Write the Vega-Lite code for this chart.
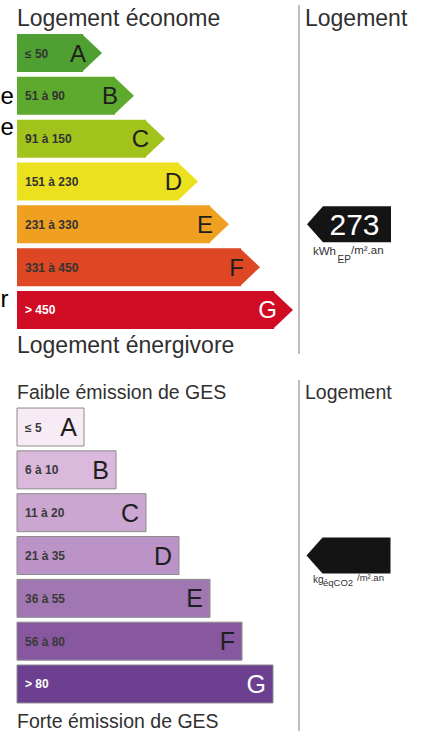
{
  "$schema": "https://vega.github.io/schema/vega-lite/v6.json",
  "width": 428,
  "height": 731,
  "autosize": {"type": "none"},
  "padding": 0,
  "background": "white",
  "config": {"view": {"stroke": null}, "font": "Liberation Sans"},
  "datasets": {
    "energy": [
      {"cls": "A", "range": "≤ 50", "len": 83},
      {"cls": "B", "range": "51 à 90", "len": 115},
      {"cls": "C", "range": "91 à 150", "len": 146},
      {"cls": "D", "range": "151 à 230", "len": 179},
      {"cls": "E", "range": "231 à 330", "len": 210},
      {"cls": "F", "range": "331 à 450", "len": 241},
      {"cls": "G", "range": "> 450", "len": 274}
    ],
    "ges": [
      {"cls": "A", "range": "≤ 5", "len": 84},
      {"cls": "B", "range": "6 à 10", "len": 116},
      {"cls": "C", "range": "11 à 20", "len": 146},
      {"cls": "D", "range": "21 à 35", "len": 179},
      {"cls": "E", "range": "36 à 55", "len": 210},
      {"cls": "F", "range": "56 à 80", "len": 242},
      {"cls": "G", "range": "> 80", "len": 273}
    ]
  },
  "resolve": {"scale": {"y": "independent", "fill": "independent"}},
  "layer": [
    {
      "encoding": {
        "y": {"field": "cls", "type": "nominal", "axis": null,
          "scale": {"type": "band", "domain": ["A","B","C","D","E","F","G"], "range": [31.6, 331.4], "paddingInner": 0.113, "paddingOuter": 0.0565}}
      },
      "layer": [
        {
          "data": {"name": "energy"},
          "mark": {"type": "bar"},
          "encoding": {
            "x": {"field": "len", "type": "quantitative", "axis": null, "scale": {"domain": [0, 428], "nice": false, "zero": false}},
            "x2": {"datum": 17},
            "fill": {"field": "cls", "type": "nominal", "legend": null,
              "scale": {"domain": ["A","B","C","D","E","F","G"], "range": ["#4f9f32", "#5eaa2e", "#a2c31b", "#ebe11e", "#f0a021", "#dd4723", "#d00c25"]}}
          }
        },
        {
          "data": {"name": "energy"},
          "mark": {"type": "point", "shape": "M-0.06,-1L1,0L-0.06,1Z", "size": 1444, "filled": true, "opacity": 1, "strokeWidth": 0},
          "encoding": {
            "x": {"field": "len", "type": "quantitative", "axis": null, "scale": {"domain": [0, 428], "nice": false, "zero": false}},
            "fill": {"field": "cls", "type": "nominal", "legend": null,
              "scale": {"domain": ["A","B","C","D","E","F","G"], "range": ["#4f9f32", "#5eaa2e", "#a2c31b", "#ebe11e", "#f0a021", "#dd4723", "#d00c25"]}}
          }
        },
        {
          "data": {"name": "energy"},
          "mark": {"type": "text", "align": "left", "baseline": "alphabetic", "dy": 4.5, "fontSize": 12, "fontWeight": "bold"},
          "encoding": {
            "x": {"datum": 25, "type": "quantitative", "axis": null, "scale": {"domain": [0, 428], "nice": false, "zero": false}},
            "text": {"field": "range"},
            "color": {"condition": {"test": "datum.cls === 'G'", "value": "#ffffff"}, "value": "#333333"}
          }
        },
        {
          "data": {"name": "energy"},
          "mark": {"type": "text", "align": "right", "baseline": "alphabetic", "dx": 3, "dy": 8.5, "fontSize": 24},
          "encoding": {
            "x": {"field": "len", "type": "quantitative", "axis": null, "scale": {"domain": [0, 428], "nice": false, "zero": false}},
            "text": {"field": "cls"},
            "color": {"condition": {"test": "datum.cls === 'G'", "value": "#ffffff"}, "value": "#1e1e1e"}
          }
        },
        {
          "data": {"values": [{"cls": "A", "t": "Logement économe"}]},
          "mark": {"type": "text", "align": "left", "baseline": "alphabetic", "dy": -27, "fontSize": 23, "color": "#303030"},
          "encoding": {
            "x": {"datum": 17, "type": "quantitative", "axis": null, "scale": {"domain": [0, 428], "nice": false, "zero": false}},
            "text": {"field": "t"}
          }
        },
        {
          "data": {"values": [{"cls": "A", "t": "Logement"}]},
          "mark": {"type": "text", "align": "left", "baseline": "alphabetic", "dy": -27, "fontSize": 23, "color": "#303030"},
          "encoding": {
            "x": {"datum": 305, "type": "quantitative", "axis": null, "scale": {"domain": [0, 428], "nice": false, "zero": false}},
            "text": {"field": "t"}
          }
        },
        {
          "data": {"values": [{"cls": "G", "t": "Logement énergivore"}]},
          "mark": {"type": "text", "align": "left", "baseline": "alphabetic", "dy": 43, "fontSize": 23, "color": "#303030"},
          "encoding": {
            "x": {"datum": 17, "type": "quantitative", "axis": null, "scale": {"domain": [0, 428], "nice": false, "zero": false}},
            "text": {"field": "t"}
          }
        },
        {
          "data": {"values": [{"cls": "A", "cls2": "G"}]},
          "mark": {"type": "rule", "color": "#a8a8a8", "strokeWidth": 1.5, "yOffset": -48, "y2Offset": 44},
          "encoding": {
            "x": {"datum": 299, "type": "quantitative", "axis": null, "scale": {"domain": [0, 428], "nice": false, "zero": false}},
            "y2": {"field": "cls2"}
          }
        },
        {
          "data": {"values": [{"cls": "E", "v": "273"}]},
          "mark": {"type": "point", "shape": "M-1,0L-0.619,-0.4286L1,-0.4286L1,0.4286L-0.619,0.4286Z", "size": 7056, "filled": true, "opacity": 1, "strokeWidth": 0, "fill": "#141414"},
          "encoding": {
            "x": {"datum": 349, "type": "quantitative", "axis": null, "scale": {"domain": [0, 428], "nice": false, "zero": false}}
          }
        },
        {
          "data": {"values": [{"cls": "E", "v": "273"}]},
          "mark": {"type": "text", "align": "center", "baseline": "alphabetic", "dy": 10.7, "fontSize": 30, "color": "#ffffff"},
          "encoding": {
            "x": {"datum": 354.5, "type": "quantitative", "axis": null, "scale": {"domain": [0, 428], "nice": false, "zero": false}},
            "text": {"field": "v"}
          }
        },
        {
          "data": {"values": [{"cls": "E", "t": "kWh"}]},
          "mark": {"type": "text", "align": "left", "baseline": "alphabetic", "dy": 30.7, "fontSize": 11.5, "color": "#303030"},
          "encoding": {
            "x": {"datum": 313, "type": "quantitative", "axis": null, "scale": {"domain": [0, 428], "nice": false, "zero": false}},
            "text": {"field": "t"}
          }
        },
        {
          "data": {"values": [{"cls": "E", "t": "EP"}]},
          "mark": {"type": "text", "align": "left", "baseline": "alphabetic", "dy": 38.7, "fontSize": 10, "color": "#303030"},
          "encoding": {
            "x": {"datum": 337.5, "type": "quantitative", "axis": null, "scale": {"domain": [0, 428], "nice": false, "zero": false}},
            "text": {"field": "t"}
          }
        },
        {
          "data": {"values": [{"cls": "E", "t": "/m².an"}]},
          "mark": {"type": "text", "align": "left", "baseline": "alphabetic", "dy": 29.7, "fontSize": 11.5, "color": "#303030"},
          "encoding": {
            "x": {"datum": 351, "type": "quantitative", "axis": null, "scale": {"domain": [0, 428], "nice": false, "zero": false}},
            "text": {"field": "t"}
          }
        },
        {
          "data": {"values": [{"cls": "B", "t": "e"}]},
          "mark": {"type": "text", "align": "left", "baseline": "alphabetic", "dy": 8, "fontSize": 24, "color": "#000000"},
          "encoding": {
            "x": {"datum": 0.5, "type": "quantitative", "axis": null, "scale": {"domain": [0, 428], "nice": false, "zero": false}},
            "text": {"field": "t"}
          }
        },
        {
          "data": {"values": [{"cls": "C", "t": "e"}]},
          "mark": {"type": "text", "align": "left", "baseline": "alphabetic", "dy": -4, "fontSize": 24, "color": "#000000"},
          "encoding": {
            "x": {"datum": 0.5, "type": "quantitative", "axis": null, "scale": {"domain": [0, 428], "nice": false, "zero": false}},
            "text": {"field": "t"}
          }
        },
        {
          "data": {"values": [{"cls": "G", "t": "r"}]},
          "mark": {"type": "text", "align": "left", "baseline": "alphabetic", "dy": -3, "fontSize": 24, "color": "#000000"},
          "encoding": {
            "x": {"datum": 0.5, "type": "quantitative", "axis": null, "scale": {"domain": [0, 428], "nice": false, "zero": false}},
            "text": {"field": "t"}
          }
        }
      ]
    },
    {
      "encoding": {
        "y": {"field": "cls", "type": "nominal", "axis": null,
          "scale": {"type": "band", "domain": ["A","B","C","D","E","F","G"], "range": [405.6, 705.4], "paddingInner": 0.113, "paddingOuter": 0.0565}}
      },
      "layer": [
        {
          "data": {"name": "ges"},
          "mark": {"type": "bar", "stroke": "#8c8c8c", "strokeWidth": 1},
          "encoding": {
            "x": {"field": "len", "type": "quantitative", "axis": null, "scale": {"domain": [0, 428], "nice": false, "zero": false}},
            "x2": {"datum": 17},
            "fill": {"field": "cls", "type": "nominal", "legend": null,
              "scale": {"domain": ["A","B","C","D","E","F","G"], "range": ["#f7ebf5", "#dab9dc", "#caa6d1", "#bb93c6", "#a077b1", "#87579f", "#6c3f90"]}}
          }
        },
        {
          "data": {"name": "ges"},
          "mark": {"type": "text", "align": "left", "baseline": "alphabetic", "dy": 4.5, "fontSize": 12, "fontWeight": "bold"},
          "encoding": {
            "x": {"datum": 25, "type": "quantitative", "axis": null, "scale": {"domain": [0, 428], "nice": false, "zero": false}},
            "text": {"field": "range"},
            "color": {"condition": {"test": "datum.cls === 'G'", "value": "#ffffff"}, "value": "#3a3a3a"}
          }
        },
        {
          "data": {"name": "ges"},
          "mark": {"type": "text", "align": "right", "baseline": "alphabetic", "dx": -7, "dy": 9, "fontSize": 25},
          "encoding": {
            "x": {"field": "len", "type": "quantitative", "axis": null, "scale": {"domain": [0, 428], "nice": false, "zero": false}},
            "text": {"field": "cls"},
            "color": {"condition": {"test": "datum.cls === 'G'", "value": "#ffffff"}, "value": "#1e1e1e"}
          }
        },
        {
          "data": {"values": [{"cls": "A", "t": "Faible émission de GES"}]},
          "mark": {"type": "text", "align": "left", "baseline": "alphabetic", "dy": -28, "fontSize": 19.5, "color": "#303030"},
          "encoding": {
            "x": {"datum": 17, "type": "quantitative", "axis": null, "scale": {"domain": [0, 428], "nice": false, "zero": false}},
            "text": {"field": "t"}
          }
        },
        {
          "data": {"values": [{"cls": "A", "t": "Logement"}]},
          "mark": {"type": "text", "align": "left", "baseline": "alphabetic", "dy": -28, "fontSize": 19.5, "color": "#303030"},
          "encoding": {
            "x": {"datum": 305, "type": "quantitative", "axis": null, "scale": {"domain": [0, 428], "nice": false, "zero": false}},
            "text": {"field": "t"}
          }
        },
        {
          "data": {"values": [{"cls": "G", "t": "Forte émission de GES"}]},
          "mark": {"type": "text", "align": "left", "baseline": "alphabetic", "dy": 44, "fontSize": 19.5, "color": "#303030"},
          "encoding": {
            "x": {"datum": 17, "type": "quantitative", "axis": null, "scale": {"domain": [0, 428], "nice": false, "zero": false}},
            "text": {"field": "t"}
          }
        },
        {
          "data": {"values": [{"cls": "A", "cls2": "G"}]},
          "mark": {"type": "rule", "color": "#a8a8a8", "strokeWidth": 1.5, "yOffset": -47, "y2Offset": 48},
          "encoding": {
            "x": {"datum": 299, "type": "quantitative", "axis": null, "scale": {"domain": [0, 428], "nice": false, "zero": false}},
            "y2": {"field": "cls2"}
          }
        },
        {
          "data": {"values": [{"cls": "D"}]},
          "mark": {"type": "point", "shape": "M-1,0L-0.619,-0.4286L1,-0.4286L1,0.4286L-0.619,0.4286Z", "size": 7056, "filled": true, "opacity": 1, "strokeWidth": 0, "fill": "#141414"},
          "encoding": {
            "x": {"datum": 348.5, "type": "quantitative", "axis": null, "scale": {"domain": [0, 428], "nice": false, "zero": false}}
          }
        },
        {
          "data": {"values": [{"cls": "D", "t": "kg"}]},
          "mark": {"type": "text", "align": "left", "baseline": "alphabetic", "dy": 27.5, "fontSize": 10, "color": "#303030"},
          "encoding": {
            "x": {"datum": 313, "type": "quantitative", "axis": null, "scale": {"domain": [0, 428], "nice": false, "zero": false}},
            "text": {"field": "t"}
          }
        },
        {
          "data": {"values": [{"cls": "D", "t": "éqCO2"}]},
          "mark": {"type": "text", "align": "left", "baseline": "alphabetic", "dy": 30, "fontSize": 9.5, "color": "#303030"},
          "encoding": {
            "x": {"datum": 323, "type": "quantitative", "axis": null, "scale": {"domain": [0, 428], "nice": false, "zero": false}},
            "text": {"field": "t"}
          }
        },
        {
          "data": {"values": [{"cls": "D", "t": "/m².an"}]},
          "mark": {"type": "text", "align": "left", "baseline": "alphabetic", "dy": 25.5, "fontSize": 9.5, "color": "#303030"},
          "encoding": {
            "x": {"datum": 357, "type": "quantitative", "axis": null, "scale": {"domain": [0, 428], "nice": false, "zero": false}},
            "text": {"field": "t"}
          }
        }
      ]
    }
  ]
}
